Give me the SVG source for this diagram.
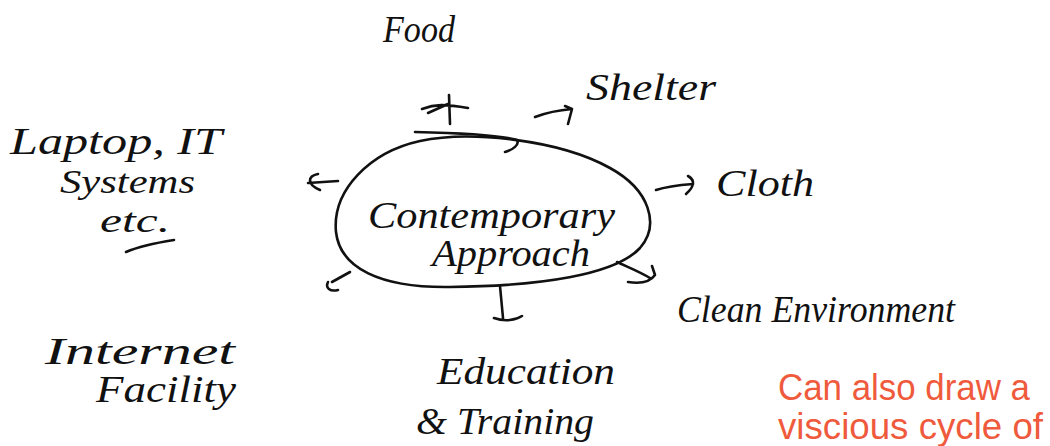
<svg xmlns="http://www.w3.org/2000/svg" width="1050" height="446" viewBox="0 0 1050 446">
<style>
.hw{font-family:"Liberation Serif","DejaVu Serif",serif;font-style:italic;fill:#111;font-size:38px}
.sm{font-size:33px}
.ln{fill:none;stroke:#111;stroke-width:2.6;stroke-linecap:round;stroke-linejoin:round}
.note{font-family:"Liberation Sans","Noto Sans",sans-serif;fill:#f05a3c;font-size:36px}
</style>
<rect width="1050" height="446" fill="#ffffff"/>
<g id="center">
<path class="ln" d="M420,141 C470,130 560,140 610,168 C650,190 660,225 640,248 C615,275 540,286 450,287 C380,288 340,268 336,232 C332,190 370,152 420,141 Z"/>
<path class="ln" d="M415,132 C460,133 500,135 517,140 C520,145 512,150 505,152"/>
<text class="hw" x="368" y="228" textLength="247" lengthAdjust="spacingAndGlyphs">Contemporary</text>
<text class="hw" x="432" y="266" textLength="158" lengthAdjust="spacingAndGlyphs">Approach</text>
</g>
<g id="connectors">
<path class="ln" d="M450,124 L449,95 M422,109 C435,104 445,104 468,108 M428,113 L448,104"/>
<path class="ln" d="M535,117 C548,112 560,110 572,109 M565,106 L572,109 L568,124"/>
<path class="ln" d="M338,181 L308,183 M318,174 C308,176 306,184 320,190"/>
<path class="ln" d="M656,190 C668,186 680,185 693,184 M688,176 C695,180 695,186 686,194"/>
<path class="ln" d="M350,272 L332,282 M328,282 C325,288 330,292 338,290"/>
<path class="ln" d="M500,286 L503,318 M494,318 C505,322 516,320 522,316"/>
<path class="ln" d="M617,262 C630,268 640,272 650,278 M628,282 C640,284 650,282 655,275 L652,266"/>
</g>
<g id="food"><text class="hw" x="383" y="42" textLength="72" lengthAdjust="spacingAndGlyphs">Food</text></g>
<g id="shelter"><text class="hw" x="586" y="100" textLength="130" lengthAdjust="spacingAndGlyphs">Shelter</text></g>
<g id="cloth"><text class="hw" x="716" y="196" textLength="98" lengthAdjust="spacingAndGlyphs">Cloth</text></g>
<g id="clean-environment"><text class="hw" x="677" y="322" textLength="278" lengthAdjust="spacingAndGlyphs">Clean Environment</text></g>
<g id="education"><text class="hw" x="437" y="384" textLength="178" lengthAdjust="spacingAndGlyphs">Education</text><text class="hw" x="416" y="434" textLength="178" lengthAdjust="spacingAndGlyphs">&amp; Training</text></g>
<g id="internet"><text class="hw" x="45" y="364" textLength="190" lengthAdjust="spacingAndGlyphs">Internet</text><text class="hw" x="96" y="402" textLength="140" lengthAdjust="spacingAndGlyphs">Facility</text></g>
<g id="laptop"><text class="hw" x="10" y="154" textLength="212" lengthAdjust="spacingAndGlyphs">Laptop, IT</text><text class="hw sm" x="60" y="193" textLength="135" lengthAdjust="spacingAndGlyphs">Systems</text><text class="hw sm" x="100" y="232" textLength="70" lengthAdjust="spacingAndGlyphs">etc.</text><path class="ln" d="M126,252 C140,246 155,243 174,240"/></g>
<g id="note"><text class="note" x="778" y="400" textLength="252" lengthAdjust="spacingAndGlyphs">Can also draw a</text><text class="note" x="778" y="439" textLength="265" lengthAdjust="spacingAndGlyphs">viscious cycle of</text></g>
</svg>
